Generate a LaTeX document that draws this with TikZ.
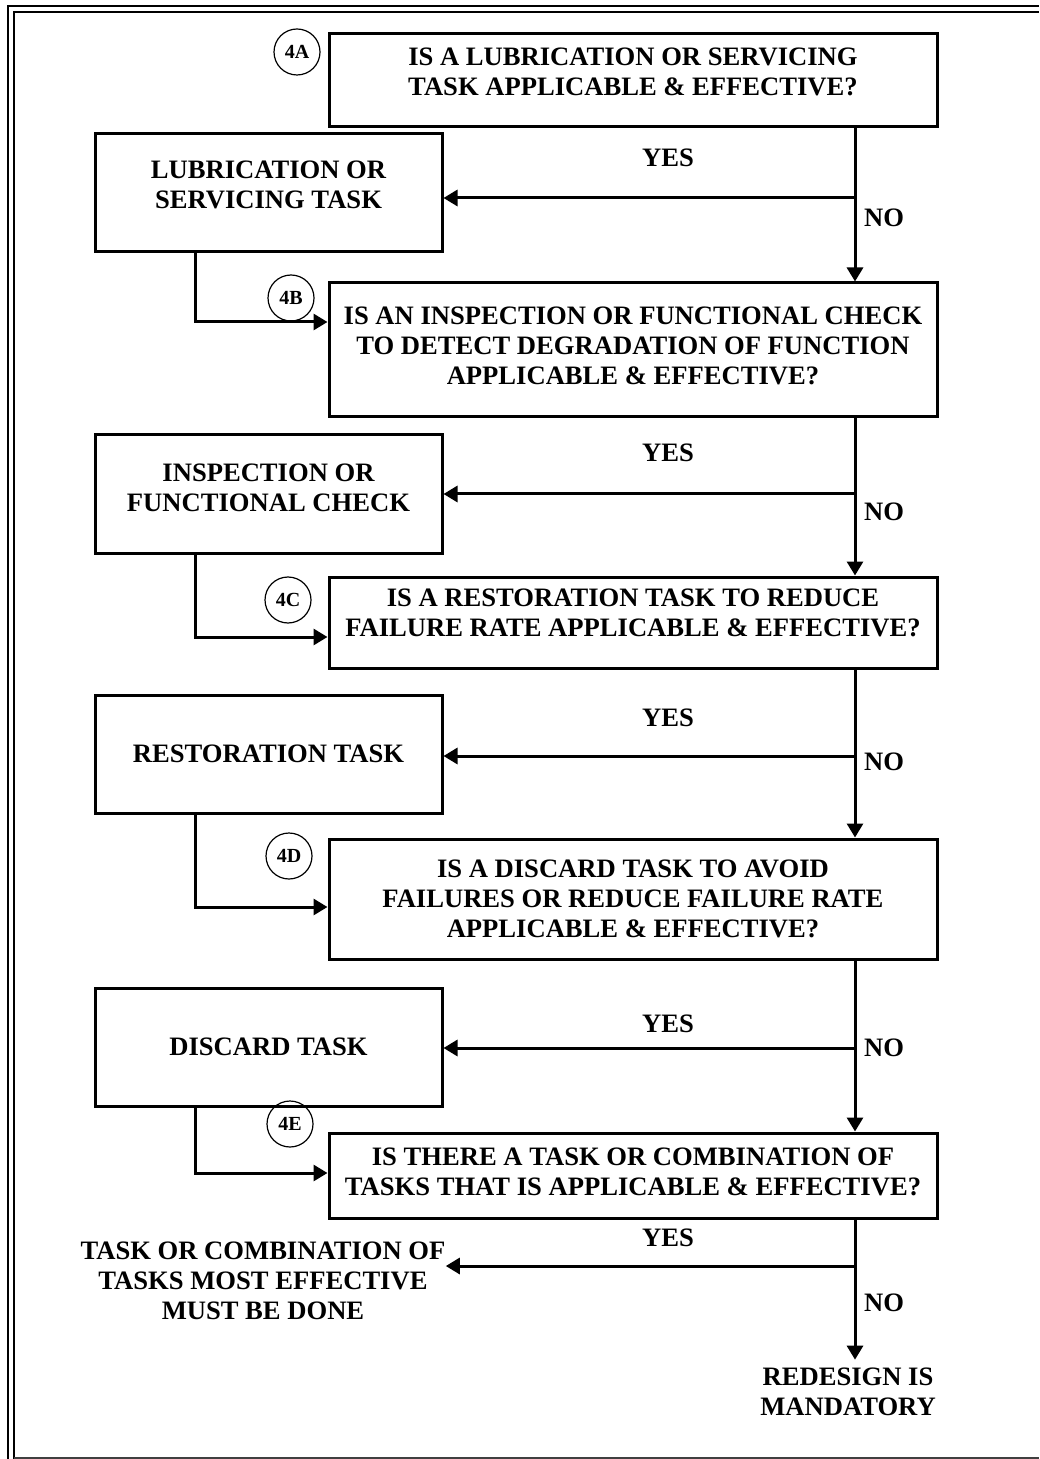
\documentclass[tikz,border=0pt]{standalone}
\usepackage{fontspec}
\setmainfont{Liberation Serif}
\usetikzlibrary{arrows.meta}

% pushes the lines of a box up by half of #1
\newcommand{\raisetxt}[1]{\rule[-#1]{0pt}{#1}}

\tikzset{
  qbox/.style={draw, line width=1.5pt, align=center, inner sep=0pt,
    minimum width=304pt, font=\bfseries\fontsize{13.3}{15}\selectfont},
  tbox/.style={draw, line width=1.5pt, align=center, inner sep=0pt,
    minimum width=173.5pt, minimum height=59pt, font=\bfseries\fontsize{13.3}{15}\selectfont},
  tag/.style={draw, circle, line width=0.6pt, minimum size=23pt, inner sep=0pt,
    font=\bfseries\fontsize{10}{11}\selectfont},
  lbl/.style={inner sep=0pt, align=center, font=\bfseries\fontsize{13.3}{15}\selectfont},
  arr/.style={line width=1.5pt, -{Triangle[length=7pt,width=8pt]}},
}

\begin{document}
\begin{tikzpicture}[x=0.5pt, y=-0.5pt]
  \useasboundingbox (0,0) rectangle (1039,1459);

  % frame
  \draw[line width=1pt] (8.3,1459) -- (8.3,6.5) -- (1039,6.5);
  \draw[line width=1pt] (14.3,1459) -- (14.3,12.5) -- (1039,12.5);
  \draw[line width=0.6pt, black!75] (14.3,1458) -- (1039,1458);

  \coordinate (col) at (855,0);

  % questions
  \node[qbox, minimum height=46.5pt] (q4a) at (633,80.5)
    {IS A LUBRICATION OR SERVICING\\TASK APPLICABLE \& EFFECTIVE?\raisetxt{8.5pt}};
  \node[qbox, minimum height=67pt] (q4b) at (633,350)
    {IS AN INSPECTION OR FUNCTIONAL CHECK\\TO DETECT DEGRADATION OF FUNCTION\\APPLICABLE \& EFFECTIVE?\raisetxt{4pt}};
  \node[qbox, minimum height=45.5pt] (q4c) at (633,622.5)
    {IS A RESTORATION TASK TO REDUCE\\FAILURE RATE APPLICABLE \& EFFECTIVE?\raisetxt{10pt}};
  \node[qbox, minimum height=60pt] (q4d) at (633,899)
    {IS A DISCARD TASK TO AVOID\\FAILURES OR REDUCE FAILURE RATE\\APPLICABLE \& EFFECTIVE?};
  \node[qbox, minimum height=42.5pt] (q4e) at (633,1175.5)
    {IS THERE A TASK OR COMBINATION OF\\TASKS THAT IS APPLICABLE \& EFFECTIVE?\raisetxt{3.5pt}};

  % tags
  \node[tag] (t4a) at (297,52) {4A};
  \node[tag] (t4b) at (291,298) {4B};
  \node[tag] (t4c) at (288,600) {4C};
  \node[tag] (t4d) at (289,856) {4D};
  \node[tag] (t4e) at (290,1124) {4E};

  % tasks
  \node[tbox] (ta) at (268.5,193) {LUBRICATION OR\\SERVICING TASK\raisetxt{8pt}};
  \node[tbox] (tb) at (268.5,494) {INSPECTION OR\\FUNCTIONAL CHECK\raisetxt{6.5pt}};
  \node[tbox] (tc) at (268.5,754) {RESTORATION TASK};
  \node[tbox] (td) at (268.5,1047) {DISCARD TASK};

  \node[lbl] (done) at (263,1281) {TASK OR COMBINATION OF\\TASKS MOST EFFECTIVE\\MUST BE DONE};
  \node[lbl, inner ysep=4pt] (redesign) at (848,1392) {REDESIGN IS\\MANDATORY};

  % NO
  \draw[arr] (q4a.south -| col) -- (q4b.north -| col);
  \draw[arr] (q4b.south -| col) -- (q4c.north -| col);
  \draw[arr] (q4c.south -| col) -- (q4d.north -| col);
  \draw[arr] (q4d.south -| col) -- (q4e.north -| col);
  \draw[arr] (q4e.south -| col) -- (redesign.north -| col);
  \foreach \y in {218,512,762,1048,1303}
    \node[lbl] (no\y) at (884,\y) {NO};

  % YES
  \foreach \t/\y in {ta/198,tb/494,tc/756,td/1048,done/1266}{
    \coordinate (j) at (855,\y);
    \draw[arr] (j) -- (\t.east |- j);
  }
  \foreach \y in {158,453,718,1024,1238}
    \node[lbl] (yes\y) at (668,\y) {YES};

  % task -> next question
  \foreach \t/\q/\y in {ta/q4b/322,tb/q4c/637,tc/q4d/907,td/q4e/1173}{
    \coordinate (k) at (195,\y);
    \draw[arr] (\t.south -| k) |- (\q.west |- k);
  }
\end{tikzpicture}
\end{document}
